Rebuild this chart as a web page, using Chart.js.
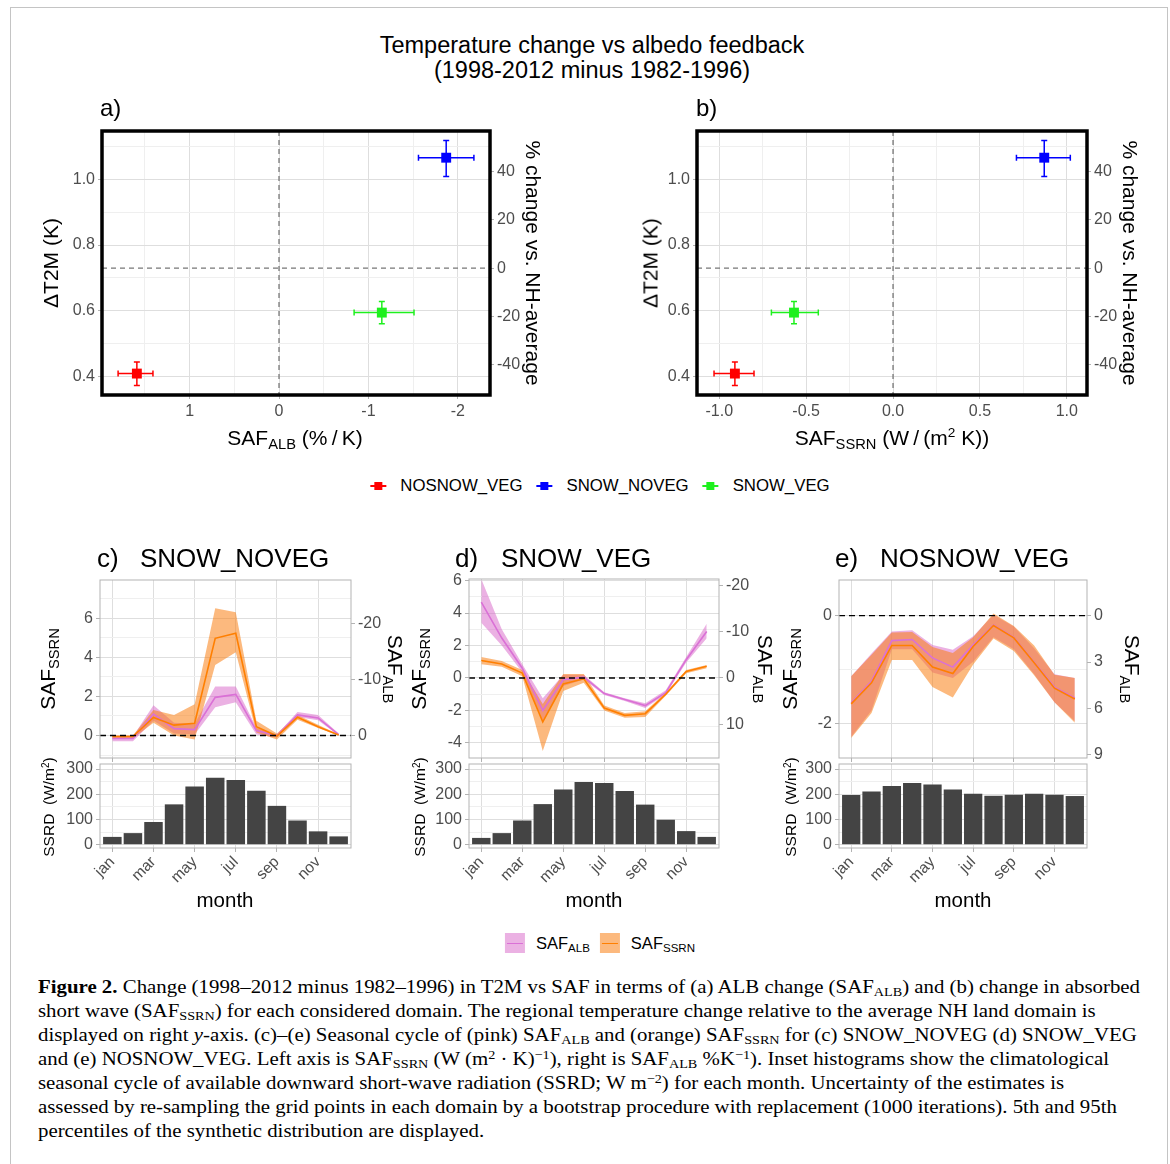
<!DOCTYPE html>
<html>
<head>
<meta charset="utf-8">
<script src="https://cdn.jsdelivr.net/npm/chart.js@4.4.1/dist/chart.umd.min.js"></script>
<style>
  body { margin: 0; background: #fff; }
  #page { position: relative; width: 1170px; height: 1164px; overflow: hidden; background: #fff;
          font-family: 'Liberation Sans', Arial, sans-serif; color: #000; }
  #page canvas { position: absolute; }
  .t { position: absolute; white-space: nowrap; line-height: 1; }
  .t sub, .lg sub { font-size: 70%; vertical-align: -0.28em; line-height: 0; }
  .t sup { font-size: 65%; vertical-align: 0.55em; line-height: 0; }
  #frame { position: absolute; left: 10px; top: 7px; width: 1156px; height: 1180px; border: 1.5px solid #c4c4c4; }
  #caption { position: absolute; left: 38px; top: 975px; font-family: 'Liberation Serif', 'DejaVu Serif', serif;
             font-size: 18.5px; line-height: 24px; white-space: nowrap; transform-origin: 0 0; }
  #caption sub { font-size: 68%; vertical-align: -0.2em; line-height: 0; }
  #caption sup { font-size: 68%; vertical-align: 0.5em; line-height: 0; }
  .legend { position: absolute; display: flex; align-items: center; transform: translate(-50%, -50%); white-space: nowrap; }
  .lg { display: flex; align-items: center; }
</style>
</head>
<body>
<div id="page"><div id="frame"></div></div>
<script>
// ---------- Data: panels a) and b) ----------
const domains = ['NOSNOW_VEG', 'SNOW_NOVEG', 'SNOW_VEG'];
const domainColors = ['#FF0000', '#0000FF', '#1EF01E'];
const dT2M = [0.410, 1.065, 0.595];
const dT2MLo = [0.374, 1.008, 0.561];
const dT2MHi = [0.445, 1.117, 0.629];
const safAlb = [1.59, -1.87, -1.15];
const safAlbLo = [1.41, -2.18, -1.51];
const safAlbHi = [1.80, -1.56, -0.84];
const safSsrn = [-0.91, 0.87, -0.57];
const safSsrnLo = [-1.03, 0.71, -0.70];
const safSsrnHi = [-0.80, 1.02, -0.43];
const nhAverage = 0.73;   // NH-average dT2M = 0 % on the right axis

// ---------- Data: seasonal cycles c) d) e) ----------
const months = [1, 2, 3, 4, 5, 6, 7, 8, 9, 10, 11, 12];
const monthNames = ['jan', 'feb', 'mar', 'apr', 'may', 'jun', 'jul', 'aug', 'sep', 'oct', 'nov', 'dec'];
// SAF_ALB is drawn on the SAF_SSRN scale; right axis shows ALB = -3.5 x SSRN
const albFactor = -3.5;

// c) SNOW_NOVEG
const ssrnC   = [-0.05, -0.05, 0.92, 0.53, 0.63, 4.97, 5.23, 0.45, -0.03, 0.93, 0.45, 0.02];
const ssrnCLo = [-0.15, -0.15, 0.65, 0.00, -0.20, 3.60, 4.25, 0.15, -0.20, 0.80, 0.38, 0.00];
const ssrnCHi = [0.00, 0.00, 1.30, 1.05, 1.60, 6.50, 6.30, 0.75, 0.10, 1.05, 0.55, 0.05];
const albC    = [-0.15, -0.15, 1.10, 0.35, 0.30, 1.95, 2.10, 0.25, 0.00, 1.05, 0.90, 0.05];
const albCLo  = [-0.30, -0.30, 0.75, 0.10, 0.05, 1.45, 1.70, 0.05, -0.10, 0.95, 0.78, 0.00];
const albCHi  = [-0.05, -0.05, 1.55, 0.65, 0.60, 2.50, 2.50, 0.40, 0.05, 1.20, 1.05, 0.10];
const ssrdC   = [31, 46, 90, 160, 231, 265, 257, 214, 154, 96, 53, 33];

// d) SNOW_VEG
const ssrnD   = [1.08, 0.86, 0.30, -2.70, -0.37, -0.05, -1.85, -2.30, -2.20, -1.00, 0.40, 0.72];
const ssrnDLo = [0.85, 0.70, 0.10, -4.50, -0.80, -0.30, -2.00, -2.45, -2.40, -1.10, 0.30, 0.60];
const ssrnDHi = [1.30, 1.05, 0.50, -1.60, 0.25, 0.25, -1.70, -2.15, -2.05, -0.90, 0.50, 0.80];
const albD    = [4.67, 2.46, 0.60, -2.00, -0.10, 0.05, -0.96, -1.33, -1.70, -0.90, 1.13, 2.87];
const albDLo  = [3.40, 2.00, 0.35, -2.60, -0.50, -0.10, -1.05, -1.42, -1.85, -1.00, 0.95, 2.45];
const albDHi  = [6.10, 3.00, 0.85, -1.25, 0.20, 0.20, -0.88, -1.25, -1.55, -0.75, 1.30, 3.35];
const ssrdD   = [27, 46, 96, 161, 219, 249, 245, 213, 159, 99, 54, 31];

// e) NOSNOW_VEG
const ssrnE   = [-1.63, -1.24, -0.55, -0.55, -0.95, -1.07, -0.57, -0.18, -0.41, -0.87, -1.34, -1.54];
const ssrnELo = [-2.26, -1.80, -0.82, -0.82, -1.32, -1.51, -0.90, -0.42, -0.65, -1.10, -1.60, -1.98];
const ssrnEHi = [-1.12, -0.72, -0.31, -0.30, -0.58, -0.69, -0.40, 0.04, -0.19, -0.55, -1.09, -1.15];
const albE    = [-1.61, -1.21, -0.46, -0.44, -0.78, -0.95, -0.54, -0.17, -0.40, -0.86, -1.32, -1.52];
const albELo  = [-2.24, -1.75, -0.62, -0.62, -1.05, -1.15, -0.85, -0.40, -0.62, -1.08, -1.60, -1.95];
const albEHi  = [-1.12, -0.70, -0.29, -0.27, -0.54, -0.63, -0.38, 0.02, -0.20, -0.60, -1.08, -1.15];
const ssrdE   = [197, 211, 233, 245, 239, 219, 202, 194, 198, 202, 198, 193];

// ---------- Tick labels ----------
const tT2M = [0.4, 0.6, 0.8, 1.0],           tT2MMinor = [0.5, 0.7, 0.9, 1.1];
const tPct = [-40, -20, 0, 20, 40];
const tAlbX = [-2, -1, 0, 1],                 tAlbXMinor = [-1.5, -0.5, 0.5, 1.5];
const tSsrnX = [-1, -0.5, 0, 0.5, 1],         tSsrnXMinor = [-0.75, -0.25, 0.25, 0.75];
const tMonth = [1, 3, 5, 7, 9, 11];
const tSsrd = [0, 100, 200, 300],             tSsrdMinor = [50, 150, 250];
const tC = [0, 2, 4, 6],          tCMinor = [-1, 1, 3, 5, 7],     tCAlb = [-20, -10, 0];
const tD = [-4, -2, 0, 2, 4, 6],  tDMinor = [-3, -1, 1, 3, 5],    tDAlb = [-20, -10, 0, 10];
const tE = [-2, 0],               tEMinor = [-1],                 tEAlb = [0, 3, 6, 9];

// ---------- Styles ----------
const orangeLine = '#FF7F00', orangeBand = 'rgba(250,128,20,0.55)';
const pinkLine = '#DA70D6', pinkBand = 'rgba(215,100,200,0.5)';
const barColor = '#444444';
const gridMajor = '#DEDEDE', gridMinor = '#EFEFEF', tickGrey = '#B3B3B3';

Chart.defaults.font.family = "'Liberation Sans', Arial, sans-serif";
Chart.defaults.color = '#4D4D4D';
Chart.defaults.animation = false;
Chart.defaults.responsive = false;
Chart.defaults.devicePixelRatio = 1;
Chart.defaults.plugins.legend.display = false;
Chart.defaults.plugins.tooltip.enabled = false;

const page = document.getElementById('page');

// ---------- Plugins ----------
const framePlugin = {
    id: 'frame',
    afterDatasetsDraw(chart, args, o) {
        if (!o.color) return;
        const a = chart.chartArea, ctx = chart.ctx;
        ctx.save();
        ctx.strokeStyle = o.color;
        ctx.lineWidth = o.width;
        ctx.strokeRect(a.left, a.top, a.right - a.left, a.bottom - a.top);
        ctx.restore();
    }
};

function drawRefLines(chart, o) {
    const a = chart.chartArea, ctx = chart.ctx;
    ctx.save();
    ctx.beginPath();
    ctx.rect(a.left, a.top, a.right - a.left, a.bottom - a.top);
    ctx.clip();
    ctx.strokeStyle = o.color;
    ctx.lineWidth = o.width;
    ctx.setLineDash(o.dash);
    (o.x || []).forEach(v => {
        const px = chart.scales.x.getPixelForValue(v);
        ctx.beginPath(); ctx.moveTo(px, a.top); ctx.lineTo(px, a.bottom); ctx.stroke();
    });
    (o.y || []).forEach(v => {
        const py = chart.scales.y.getPixelForValue(v);
        ctx.beginPath(); ctx.moveTo(a.left, py); ctx.lineTo(a.right, py); ctx.stroke();
    });
    ctx.restore();
}
const refLinesPlugin = {
    id: 'refLines',
    beforeDatasetsDraw(chart, args, o) { if (o.color && o.under) drawRefLines(chart, o); },
    afterDatasetsDraw(chart, args, o) { if (o.color && !o.under) drawRefLines(chart, o); }
};

const errorBarPlugin = {
    id: 'errorBars',
    beforeDatasetsDraw(chart) {
        const ctx = chart.ctx, xs = chart.scales.x, ys = chart.scales.y;
        chart.data.datasets.forEach(ds => {
            if (!ds.errX) return;
            ctx.save();
            ctx.strokeStyle = ds.borderColor;
            ctx.lineWidth = 1.5;
            ds.data.forEach((p, i) => {
                const px = xs.getPixelForValue(p.x), py = ys.getPixelForValue(p.y);
                const x0 = xs.getPixelForValue(ds.errX[i][0]), x1 = xs.getPixelForValue(ds.errX[i][1]);
                const y0 = ys.getPixelForValue(ds.errY[i][0]), y1 = ys.getPixelForValue(ds.errY[i][1]);
                ctx.beginPath();
                ctx.moveTo(x0, py); ctx.lineTo(x1, py);
                ctx.moveTo(x0, py - 3); ctx.lineTo(x0, py + 3);
                ctx.moveTo(x1, py - 3); ctx.lineTo(x1, py + 3);
                ctx.moveTo(px, y0); ctx.lineTo(px, y1);
                ctx.moveTo(px - 3, y0); ctx.lineTo(px + 3, y0);
                ctx.moveTo(px - 3, y1); ctx.lineTo(px + 3, y1);
                ctx.stroke();
            });
            ctx.restore();
        });
    }
};

// ---------- Helpers ----------
// area = wanted chart area in page pixels, m = room around it for the axes
function makeCanvas(area, m) {
    const c = document.createElement('canvas');
    c.width = area.r - area.l + m.l + m.r;
    c.height = area.b - area.t + m.t + m.b;
    c.style.left = (area.l - m.l) + 'px';
    c.style.top = (area.t - m.t) + 'px';
    page.appendChild(c);
    return c;
}

const setTicks = vals => scale => { scale.ticks = vals.map(v => ({ value: v })); };
const fixWidth = w => scale => { scale.width = w; };
const fixHeight = h => scale => { scale.height = h; };

function gridFor(majors, onArea = true) {
    return {
        offset: false,
        drawOnChartArea: onArea,
        color: c => majors.includes(c.tick && c.tick.value) ? gridMajor : gridMinor,
        tickColor: c => majors.includes(c.tick && c.tick.value) ? tickGrey : 'rgba(0,0,0,0)',
        tickLength: 4,
        lineWidth: 1
    };
}

function axisOpts(o) {
    return {
        type: 'linear',
        offset: false,
        position: o.position,
        reverse: !!o.reverse,
        min: o.min,
        max: o.max,
        afterBuildTicks: setTicks(o.major.concat(o.minor || [])),
        afterFit: o.width != null ? fixWidth(o.width) : fixHeight(o.height),
        border: { display: false },
        grid: gridFor(o.major, o.onArea !== false),
        ticks: {
            display: o.showLabels !== false,
            autoSkip: false,
            padding: 3,
            font: { size: o.fontSize || 16 },
            minRotation: o.rotation || 0,
            maxRotation: o.rotation || 0,
            callback: v => o.major.includes(v) ? o.fmt(v) : ''
        }
    };
}

function addText(html, x, y, size, opts = {}) {
    const d = document.createElement('div');
    d.className = 't';
    d.innerHTML = html;
    d.style.fontSize = size + 'px';
    d.style.left = x + 'px';
    d.style.top = y + 'px';
    const ax = opts.anchor === 'left' ? '0' : '-50%';
    d.style.transform = `translate(${ax},-50%) rotate(${opts.rot || 0}deg)`;
    if (opts.color) d.style.color = opts.color;
    page.appendChild(d);
    return d;
}

const pct = t => (t / nhAverage - 1) * 100;
const pts = (ys) => months.map((m, i) => ({ x: m, y: ys[i] }));

// ---------- Scatter panels a) and b) ----------
function scatterPanel(area, xVals, xLo, xHi, xr, xTicks, xMinor, xFmt, reverse) {
    const m = { l: 55, t: 14, r: 50, b: 32 };
    const yr = { min: 0.345, max: 1.146 };
    new Chart(makeCanvas(area, m), {
        type: 'scatter',
        data: {
            datasets: domains.map((name, i) => ({
                label: name,
                data: [{ x: xVals[i], y: dT2M[i] }],
                errX: [[xLo[i], xHi[i]]],
                errY: [[dT2MLo[i], dT2MHi[i]]],
                borderColor: domainColors[i],
                backgroundColor: domainColors[i],
                pointStyle: 'rect',
                pointRadius: 7,
                borderWidth: 0
            }))
        },
        options: {
            layout: { padding: { top: m.t, left: 0, right: 0, bottom: 0 } },
            scales: {
                x: axisOpts({ position: 'bottom', reverse, min: xr.min, max: xr.max, major: xTicks, minor: xMinor,
                              fmt: xFmt, height: m.b }),
                y: axisOpts({ position: 'left', min: yr.min, max: yr.max, major: tT2M, minor: tT2MMinor,
                              fmt: v => v.toFixed(1), width: m.l }),
                y2: axisOpts({ position: 'right', min: pct(yr.min), max: pct(yr.max), major: tPct,
                               fmt: v => String(v), width: m.r, onArea: false })
            },
            plugins: {
                frame: { color: '#000', width: 3.5 },
                refLines: { x: [0], y: [nhAverage], color: '#777', dash: [5, 4], width: 1.3, under: true }
            }
        },
        plugins: [errorBarPlugin, refLinesPlugin, framePlugin]
    });
}

scatterPanel({ l: 102, t: 131, r: 490, b: 395 }, safAlb, safAlbLo, safAlbHi,
             { min: -2.36, max: 1.98 }, tAlbX, tAlbXMinor, v => String(v), true);
scatterPanel({ l: 697, t: 131, r: 1087, b: 395 }, safSsrn, safSsrnLo, safSsrnHi,
             { min: -1.128, max: 1.116 }, tSsrnX, tSsrnXMinor, v => v.toFixed(1), false);

// ---------- Seasonal panels c) d) e) ----------
function seasonalPanel(left, right, top, yr, yTicks, yMinor, albTicks, s) {
    const xr = { min: 0.4, max: 12.6 };
    // upper: SAF lines with 5-95% bands
    const areaTop = { l: left, t: top, r: right, b: 758 };
    const mTop = { l: 40, t: 14, r: 36, b: 14 };
    const band = (ys, color, fill) => ({
        data: pts(ys), borderColor: 'transparent', borderWidth: 1, pointRadius: 0,
        fill: fill, backgroundColor: color
    });
    new Chart(makeCanvas(areaTop, mTop), {
        type: 'line',
        data: {
            datasets: [
                { data: pts(s.ssrn), borderColor: orangeLine, borderWidth: 1.6, pointRadius: 0, fill: false },
                { data: pts(s.alb), borderColor: pinkLine, borderWidth: 1.6, pointRadius: 0, fill: false },
                band(s.ssrnLo, 'transparent', false),
                band(s.ssrnHi, orangeBand, '-1'),
                band(s.albLo, 'transparent', false),
                band(s.albHi, pinkBand, '-1')
            ]
        },
        options: {
            layout: { padding: { top: mTop.t, bottom: mTop.b, left: 0, right: 0 } },
            scales: {
                x: axisOpts({ position: 'bottom', min: xr.min, max: xr.max, major: tMonth,
                              fmt: v => '', height: 0, showLabels: false }),
                y: axisOpts({ position: 'left', min: yr.min, max: yr.max, major: yTicks, minor: yMinor,
                              fmt: v => String(v), width: mTop.l }),
                y2: axisOpts({ position: 'right', reverse: true, min: albFactor * yr.max, max: albFactor * yr.min,
                               major: albTicks, fmt: v => String(v), width: mTop.r, onArea: false })
            },
            plugins: {
                filler: { drawTime: 'beforeDatasetsDraw' },
                refLines: { y: [0], color: '#000', dash: [6, 4], width: 1.3 },
                frame: { color: tickGrey, width: 1 }
            }
        },
        plugins: [refLinesPlugin, framePlugin]
    });
    // lower: SSRD histogram
    const areaBot = { l: left, t: 764, r: right, b: 848 };
    const mBot = { l: 42, t: 14, r: 14, b: 44 };
    const xAxis = axisOpts({ position: 'bottom', min: xr.min, max: xr.max, major: tMonth,
                             fmt: v => monthNames[v - 1], height: mBot.b, rotation: 45, fontSize: 15.5 });
    xAxis.ticks.padding = 1;
    new Chart(makeCanvas(areaBot, mBot), {
        type: 'bar',
        data: {
            datasets: [{ data: pts(s.ssrd), backgroundColor: barColor, barPercentage: 0.9, categoryPercentage: 1 }]
        },
        options: {
            layout: { padding: { top: mBot.t, right: mBot.r, left: 0, bottom: 0 } },
            scales: {
                x: xAxis,
                y: axisOpts({ position: 'left', min: -13, max: 320, major: tSsrd, minor: tSsrdMinor,
                              fmt: v => String(v), width: mBot.l })
            },
            plugins: { frame: { color: tickGrey, width: 1 } }
        },
        plugins: [framePlugin]
    });
}

seasonalPanel(100, 351, 580, { min: -1.15, max: 7.95 }, tC, tCMinor, tCAlb,
    { ssrn: ssrnC, ssrnLo: ssrnCLo, ssrnHi: ssrnCHi, alb: albC, albLo: albCLo, albHi: albCHi, ssrd: ssrdC });
seasonalPanel(469, 719, 579, { min: -4.93, max: 6.1 }, tD, tDMinor, tDAlb,
    { ssrn: ssrnD, ssrnLo: ssrnDLo, ssrnHi: ssrnDHi, alb: albD, albLo: albDLo, albHi: albDHi, ssrd: ssrdD });
seasonalPanel(839, 1087, 580, { min: -2.63, max: 0.66 }, tE, tEMinor, tEAlb,
    { ssrn: ssrnE, ssrnLo: ssrnELo, ssrnHi: ssrnEHi, alb: albE, albLo: albELo, albHi: albEHi, ssrd: ssrdE });

// ---------- Texts ----------
addText('Temperature change vs albedo feedback', 592, 46, 23.5);
addText('(1998-2012 minus 1982-1996)', 592, 71, 23.5);
addText('a)', 100, 108, 24, { anchor: 'left' });
addText('b)', 696, 108, 24, { anchor: 'left' });

addText('ΔT2M (K)', 50, 263, 21, { rot: -90 });
addText('ΔT2M (K)', 650, 263, 21, { rot: -90 });
addText('% change vs. NH-average', 533, 263, 21, { rot: 90 });
addText('% change vs. NH-average', 1130, 263, 21, { rot: 90 });
addText('SAF<sub>ALB</sub> (%&thinsp;/&thinsp;K)', 295, 437, 21);
addText('SAF<sub>SSRN</sub> (W&thinsp;/&thinsp;(m<sup>2</sup> K))', 892, 437, 21);

const panelTitles = [['c)', 'SNOW_NOVEG', 97, 140], ['d)', 'SNOW_VEG', 455, 501], ['e)', 'NOSNOW_VEG', 835, 880]];
panelTitles.forEach(p => {
    addText(p[0], p[2], 558, 26, { anchor: 'left' });
    addText(p[1], p[3], 558, 26, { anchor: 'left' });
});
[[47, 395, 225], [418, 765, 594], [789, 1132, 963]].forEach(p => {
    addText('SAF<sub>SSRN</sub>', p[0], 669, 21, { rot: -90 });
    addText('SAF<sub>ALB</sub>', p[1], 669, 21, { rot: 90 });
    addText('SSRD&nbsp; (W/m<sup>2</sup>)', p[0] + 2, 807, 15.5, { rot: -90 });
    addText('month', p[2], 900, 20.5);
});

// ---------- Legends ----------
const topLegend = document.createElement('div');
topLegend.className = 'legend';
topLegend.style.left = '600px';
topLegend.style.top = '486px';
topLegend.style.fontSize = '16.8px';
topLegend.innerHTML = domains.map((name, i) =>
    `<div class="lg" style="margin-right:${i < domains.length - 1 ? 14 : 0}px">
       <div style="position:relative;width:16px;height:10px;margin-right:14px">
         <div style="position:absolute;left:0;top:4px;width:16px;height:2px;background:${domainColors[i]}"></div>
         <div style="position:absolute;left:4px;top:1px;width:8px;height:8px;background:${domainColors[i]}"></div>
       </div><span>${name}</span></div>`).join('');
page.appendChild(topLegend);

const bottomLegend = document.createElement('div');
bottomLegend.className = 'legend';
bottomLegend.style.left = '600px';
bottomLegend.style.top = '943px';
bottomLegend.style.fontSize = '16.5px';
const safItems = [['SAF<sub>ALB</sub>', pinkBand, pinkLine], ['SAF<sub>SSRN</sub>', orangeBand, orangeLine]];
bottomLegend.innerHTML = safItems.map((it, i) =>
    `<div class="lg" style="margin-right:${i === 0 ? 10 : 0}px">
       <div style="position:relative;width:20px;height:20px;margin-right:11px;background:${it[1]}">
         <div style="position:absolute;left:2px;top:9.5px;width:16px;height:1.5px;background:${it[2]}"></div>
       </div><span>${it[0]}</span></div>`).join('');
page.appendChild(bottomLegend);

// ---------- Caption ----------
const captionLines = [
    '<b>Figure 2.</b> Change (1998–2012 minus 1982–1996) in T2M vs SAF in terms of (a) ALB change (SAF<sub>ALB</sub>) and (b) change in absorbed',
    'short wave (SAF<sub>SSRN</sub>) for each considered domain. The regional temperature change relative to the average NH land domain is',
    'displayed on right <i>y</i>-axis. (c)–(e) Seasonal cycle of (pink) SAF<sub>ALB</sub> and (orange) SAF<sub>SSRN</sub> for (c) SNOW_NOVEG (d) SNOW_VEG',
    'and (e) NOSNOW_VEG. Left axis is SAF<sub>SSRN</sub> (W (m<sup>2</sup> · K)<sup>−1</sup>), right is SAF<sub>ALB</sub> %K<sup>−1</sup>). Inset histograms show the climatological',
    'seasonal cycle of available downward short-wave radiation (SSRD; W m<sup>−2</sup>) for each month. Uncertainty of the estimates is',
    'assessed by re-sampling the grid points in each domain by a bootstrap procedure with replacement (1000 iterations). 5th and 95th',
    'percentiles of the synthetic distribution are displayed.'
];
const caption = document.createElement('div');
caption.id = 'caption';
caption.innerHTML = captionLines.map(l => `<div><span>${l}</span></div>`).join('');
page.appendChild(caption);
const firstWidth = caption.querySelector('span').getBoundingClientRect().width;
caption.style.transform = `scaleX(${1102 / firstWidth})`;
</script>
</body>
</html>
